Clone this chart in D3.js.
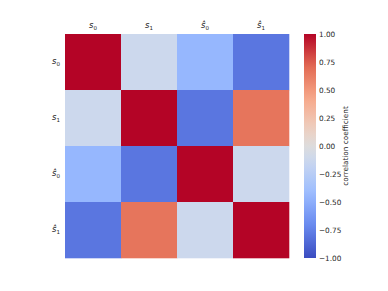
<!DOCTYPE html>
<meta charset="utf-8">
<style>
body { margin: 0; background: #fff; }
text { font-family: "DejaVu Sans", sans-serif; fill: #262626; }
</style>
<body>
<div id="graph"></div>
<script src="https://d3js.org/d3.v7.min.js"></script>
<script>
// variable names: base letter, subscript, hat?
var labels = [
  {base: "s", sub: "0"},
  {base: "s", sub: "1"},
  {base: "\u015D", sub: "0"},
  {base: "\u015D", sub: "1"}
];
var rowS0 = [1.00, -0.12, -0.45, -0.80];
var rowS1 = [-0.12, 1.00, -0.80, 0.66];
var rowH0 = [-0.45, -0.80, 1.00, -0.12];
var rowH1 = [-0.80, 0.66, -0.12, 1.00];
var matrix = [rowS0, rowS1, rowH0, rowH1];
var cbTicks = [-1.00, -0.75, -0.50, -0.25, 0.00, 0.25, 0.50, 0.75, 1.00];

// matplotlib coolwarm, sampled
var coolwarmStops = ["#3b4cc0", "#6788ee", "#9abbff", "#c9d7f0", "#dddcdc", "#edd1c2", "#f7a889", "#e26952", "#b40426"];
var stopPos = [0, 1/7, 2/7, 3/7, 0.5, 4/7, 5/7, 6/7, 1];
var cw = d3.scaleLinear().domain(stopPos).range(coolwarmStops).interpolate(d3.interpolateRgb);
function color(v) { return cw((v + 1) / 2); }

var W = 388, H = 291;
var mLeft = 65, mTop = 34, size = 224;

var svg = d3.select("#graph").append("svg")
  .attr("width", W).attr("height", H);

var idx = d3.range(labels.length);
var x = d3.scaleBand().domain(idx).range([mLeft, mLeft + size]);
var y = d3.scaleBand().domain(idx).range([mTop, mTop + size]);

var cells = [];
matrix.forEach(function(row, i) {
  row.forEach(function(v, j) { cells.push({i: i, j: j, v: v}); });
});

svg.selectAll("rect.cell")
  .data(cells)
  .enter().append("rect")
  .attr("class", "cell")
  .attr("x", function(d) { return x(d.j); })
  .attr("y", function(d) { return y(d.i); })
  .attr("width", x.bandwidth() + 0.3)
  .attr("height", y.bandwidth() + 0.3)
  .attr("fill", function(d) { return color(d.v); });

function mathLabel(sel) {
  sel.append("tspan").attr("font-style", "italic").text(function(d) { return d.base; });
  sel.append("tspan").attr("font-size", "5.5px").attr("dy", 1.8).text(function(d) { return d.sub; });
}

// top labels
svg.selectAll("text.xl")
  .data(labels)
  .enter().append("text")
  .attr("class", "xl")
  .attr("x", function(d, i) { return x(i) + x.bandwidth() / 2; })
  .attr("y", 28)
  .attr("text-anchor", "middle")
  .attr("font-size", "8.5px")
  .call(mathLabel);

// left labels
svg.selectAll("text.yl")
  .data(labels)
  .enter().append("text")
  .attr("class", "yl")
  .attr("x", 60)
  .attr("y", function(d, i) { return y(i) + y.bandwidth() / 2 + 2; })
  .attr("text-anchor", "end")
  .attr("font-size", "8.5px")
  .call(mathLabel);

// colorbar
var cbX = 304, cbW = 12;
var cy = d3.scaleLinear().domain([-1, 1]).range([mTop + size, mTop]);
var defs = svg.append("defs");
var grad = defs.append("linearGradient").attr("id", "cwgrad")
  .attr("x1", 0).attr("y1", 1).attr("x2", 0).attr("y2", 0);
d3.range(0, 1.0001, 0.05).forEach(function(t) {
  grad.append("stop").attr("offset", t).attr("stop-color", cw(t));
});
svg.append("rect")
  .attr("x", cbX).attr("y", mTop)
  .attr("width", cbW).attr("height", size)
  .attr("fill", "url(#cwgrad)");

svg.selectAll("text.cb")
  .data(cbTicks)
  .enter().append("text")
  .attr("class", "cb")
  .attr("x", cbX + cbW + 3)
  .attr("y", function(d) { return cy(d) + 2.6; })
  .attr("font-size", "7.3px")
  .text(function(d) { return d3.format(".2f")(d).replace("-", "\u2212"); });

svg.append("text")
  .attr("transform", "translate(348," + (mTop + size / 2) + ") rotate(-90)")
  .attr("text-anchor", "middle")
  .attr("font-size", "7.3px")
  .text("correlation coefficient");
</script>
</body>
